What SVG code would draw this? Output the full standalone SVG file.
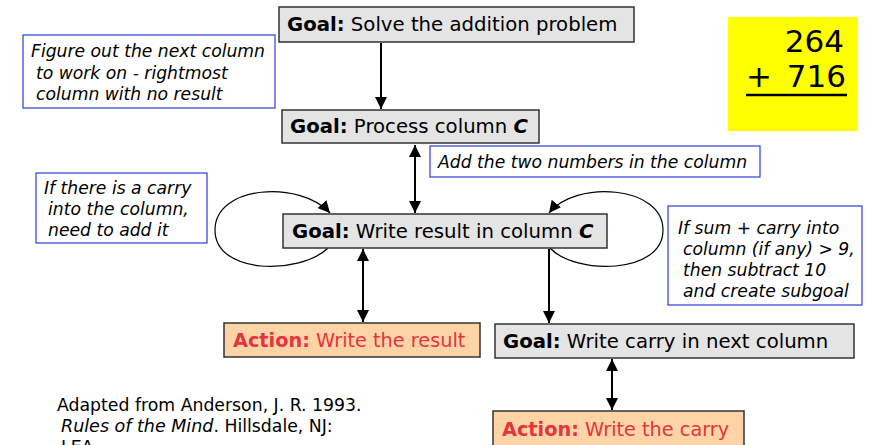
<svg xmlns="http://www.w3.org/2000/svg" width="871" height="445" viewBox="0 0 871 445">
<defs>
<marker id="ah" viewBox="0 0 12 12" refX="12" refY="6" markerWidth="12" markerHeight="12" markerUnits="userSpaceOnUse" orient="auto-start-reverse">
<path d="M0,0 L12,6 L0,12 Z" fill="#000"/>
</marker>
<style>
.goal{fill:#e4e4e4;stroke:#333;stroke-width:1.5}
.act{fill:#fed4a6;stroke:#333;stroke-width:1.5}
.note{fill:#fff;stroke:#2a3fd6;stroke-width:1.2}
.t{font-family:"DejaVu Sans",Verdana,sans-serif;font-size:19.7px;fill:#000}
.at{font-family:"DejaVu Sans",Tahoma,sans-serif;font-size:19.3px;fill:#e4343e}
.n{font-family:"DejaVu Sans",Verdana,sans-serif;font-size:17.2px;font-style:italic;fill:#000}
.f{font-family:"DejaVu Sans",Tahoma,sans-serif;font-size:17.3px;fill:#000}
.num{font-family:"DejaVu Sans",Verdana,sans-serif;font-size:31px;fill:#000}
.c{fill:none;stroke:#000;stroke-width:2}
.loop{fill:none;stroke:#000;stroke-width:1.2}
</style>
</defs>
<g id="connectors">
<line class="c" x1="381" y1="43" x2="381" y2="109" marker-end="url(#ah)"/>
<line class="c" x1="415" y1="145" x2="415" y2="213" marker-start="url(#ah)" marker-end="url(#ah)"/>
<path class="loop" d="M328,248 C300,275 215,275 215,230 C215,185 300,180 330,213" marker-end="url(#ah)"/>
<path class="loop" d="M550,248 C575,275 663,275 663,230 C663,185 575,180 549,213" marker-end="url(#ah)"/>
<line class="c" x1="363" y1="249" x2="363" y2="322" marker-start="url(#ah)" marker-end="url(#ah)"/>
<line class="c" x1="549" y1="249" x2="549" y2="323" marker-end="url(#ah)"/>
<line class="c" x1="612" y1="359" x2="612" y2="410" marker-start="url(#ah)" marker-end="url(#ah)"/>
</g>
<g id="solve">
<rect class="goal" x="279" y="7" width="355" height="35"/>
<text class="t" x="287" y="31"><tspan font-weight="bold">Goal:</tspan> Solve the addition problem</text>
</g>
<g id="note-figure">
<rect class="note" x="23" y="35" width="252" height="73"/>
<text class="n" x="31" y="57">Figure out the next column</text>
<text class="n" x="36" y="79">to work on - rightmost</text>
<text class="n" x="36" y="100">column with no result</text>
</g>
<g id="sum">
<rect x="728" y="17" width="129" height="114" fill="#ffff00"/>
<text class="num" x="844" y="52" text-anchor="end">264</text>
<text class="num" x="746" y="87">+</text>
<text class="num" x="846" y="87" text-anchor="end">716</text>
<line x1="746" y1="95" x2="847" y2="95" stroke="#000" stroke-width="2.5"/>
</g>
<g id="process">
<rect class="goal" x="282" y="110" width="257" height="33"/>
<text class="t" x="290" y="133"><tspan font-weight="bold">Goal:</tspan> Process column <tspan font-weight="bold" font-style="italic">C</tspan></text>
</g>
<g id="note-add">
<rect class="note" x="430" y="146" width="330" height="31"/>
<text class="n" x="438" y="168">Add the two numbers in the column</text>
</g>
<g id="note-carry">
<rect class="note" x="36" y="173" width="171" height="70"/>
<text class="n" x="44" y="194">If there is a carry</text>
<text class="n" x="48" y="215">into the column,</text>
<text class="n" x="48" y="236">need to add it</text>
</g>
<g id="write-result">
<rect class="goal" x="283" y="214" width="324" height="34"/>
<text class="t" x="292" y="238"><tspan font-weight="bold">Goal:</tspan> Write result in column <tspan font-weight="bold" font-style="italic">C</tspan></text>
</g>
<g id="note-sum">
<rect class="note" x="668" y="206" width="194" height="99"/>
<text class="n" x="678" y="234">If sum + carry into</text>
<text class="n" x="683" y="255">column (if any) &gt; 9,</text>
<text class="n" x="683" y="276">then subtract 10</text>
<text class="n" x="683" y="297">and create subgoal</text>
</g>
<g id="action-result">
<rect class="act" x="224" y="323" width="256" height="34"/>
<text class="at" x="233" y="347"><tspan font-weight="bold">Action:</tspan> Write the result</text>
</g>
<g id="write-carry">
<rect class="goal" x="495" y="324" width="359" height="34"/>
<text class="t" x="503" y="348"><tspan font-weight="bold">Goal:</tspan> Write carry in next column</text>
</g>
<g id="action-carry">
<rect class="act" x="493" y="411" width="251" height="36"/>
<text class="at" x="502" y="436"><tspan font-weight="bold">Action:</tspan> Write the carry</text>
</g>
<g id="citation">
<text class="f" x="57" y="411">Adapted from Anderson, J. R. 1993.</text>
<text class="f" x="61" y="432"><tspan font-style="italic" font-size="17.5">Rules of the Mind</tspan>. Hillsdale, NJ:</text>
<text class="f" x="61" y="453">LEA</text>
</g>
</svg>
